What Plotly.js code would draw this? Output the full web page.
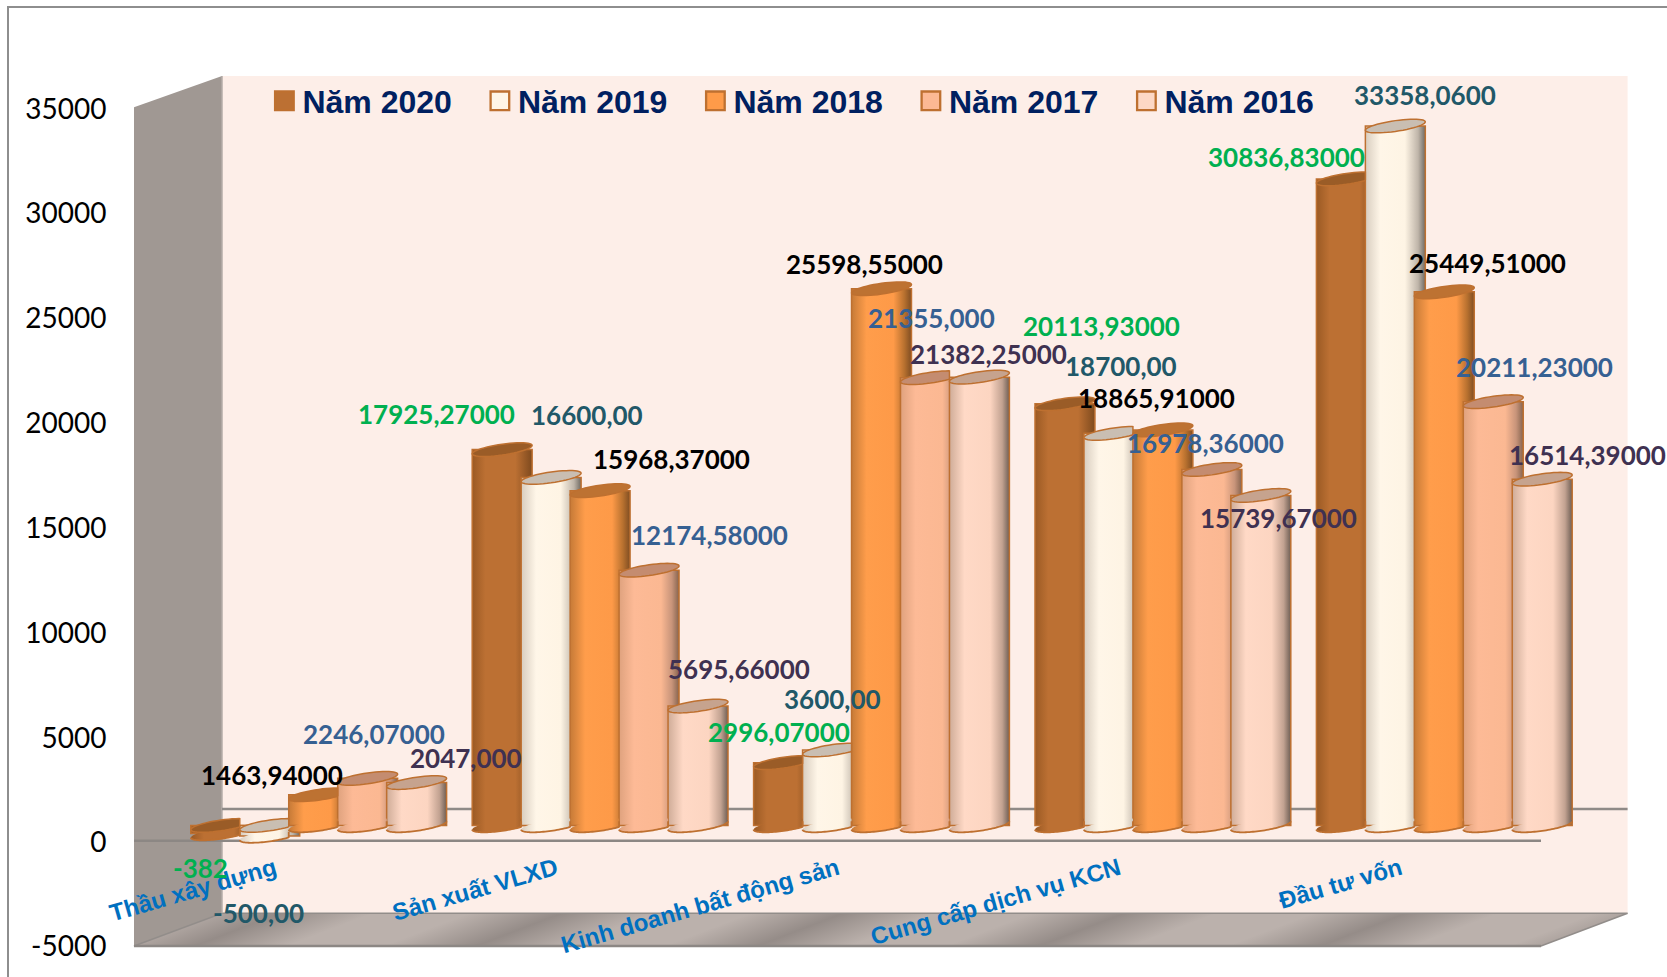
<!DOCTYPE html>
<html><head><meta charset="utf-8">
<script src="https://cdn.plot.ly/plotly-3.0.0.min.js"></script>
<style>html,body{margin:0;padding:0;background:#fff;overflow:hidden}#chart{width:1667px;height:977px}</style>
</head><body><div id="chart"></div>
<script>
// ---------- data ----------
const categories = ['Thầu xây dựng','Sản xuất VLXD','Kinh doanh bất động sản','Cung cấp dịch vụ KCN','Đầu tư vốn'];
const seriesNames = ['Năm 2020','Năm 2019','Năm 2018','Năm 2017','Năm 2016'];
const values2020 = [-382, 17925.27, 2996.07, 20113.93, 30836.83];
const values2019 = [-500, 16600, 3600, 18700, 33358.06];
const values2018 = [1463.94, 15968.37, 25598.55, 18865.91, 25449.51];
const values2017 = [2246.07, 12174.58, 21355, 16978.36, 20211.23];
const values2016 = [2047, 5695.66, 21382.25, 15739.67, 16514.39];
const labels2020 = ['-382','17925,27000','2996,07000','20113,93000','30836,83000'];
const labels2019 = ['-500,00','16600,00','3600,00','18700,00','33358,0600'];
const labels2018 = ['1463,94000','15968,37000','25598,55000','18865,91000','25449,51000'];
const labels2017 = ['2246,07000','12174,58000','21355,000','16978,36000','20211,23000'];
const labels2016 = ['2047,000','5695,66000','21382,25000','15739,67000','16514,39000'];
const yTicks = [-5000,0,5000,10000,15000,20000,25000,30000,35000];

// ---------- style ----------
const W = 1667, H = 977;
const allValues = [values2020,values2019,values2018,values2017,values2016];
const allLabels = [labels2020,labels2019,labels2018,labels2017,labels2016];
const labelColors = ['#00B050','#215868','#000000','#366092','#3F3151'];
const baseColors = ['#BC7033','#FFF5E6','#FE9B49','#FCB994','#FDD8C5'];
const capColors = ['#9A5C27','#C9BEB2','#BD7232','#C48C70','#C6A38E'];
const edgeColor = '#BE7030';
const gradients = [
  [[0,'#9B5A24'],[.22,'#BC7033'],[.72,'#BC7033'],[1,'#7E4A1E']],
  [[0,'#D8CDBF'],[.25,'#FFF6E8'],[.66,'#FEF4E4'],[.88,'#BFB5A9'],[1,'#6F6A63']],
  [[0,'#C67A37'],[.25,'#FF9D4B'],[.70,'#FE9A48'],[.88,'#B8712F'],[1,'#7F4D22']],
  [[0,'#DFA27E'],[.25,'#FDBA96'],[.70,'#FBB892'],[.88,'#C8947A'],[1,'#86644F']],
  [[0,'#CFAC98'],[.25,'#FFD9C6'],[.68,'#FCD5C1'],[.88,'#C2A291'],[1,'#6E5E54']]
];
// label offsets from the bar's centre-top, in pixels of the 1568-wide view
const S = 1667/1568;
const labelDx = [[-19,-62,-4,34,-56],[-11,34,0,7,28],[-44,67,-16,-6,41],[6,57,1,-6,39],[46,39,9,17,43]];
const labelDy = [[-31.5,34,30,74,22],[-72,60,49,64,30],[20,31,24,31,28],[43,34,57,26,34],[24,36,23,-20,24]];

const px = x => x/W, py = y => 1-y/H;
const poly = pts => 'M' + pts.map(p => px(p[0])+','+py(p[1])).join('L') + 'Z';
const frontL=134, frontR=1541, frontT=107.3, frontB=946, frontZero=840.7, backL=222, backR=1627.6, backT=76, backB=913.3, backZero=809;
const yPerPx = 40000/(frontB-frontT), xPerPx = 5/(frontR-frontL);
// the bars stand mid-way in the 3D box: the front-plane ticks are offset by this depth
const depthY = 15.7*yPerPx, depthX = 44*xPerPx;
const barStep = 0.174, barW = 0.213;
const ellA = barW/2, ellB = 5.4*yPerPx, ellS = 4.2*yPerPx;

const staticShape = (path, fill, line, lw, layer) => ({type:'path', xref:'paper', yref:'paper', path, fillcolor:fill||'rgba(0,0,0,0)',
  line:{color:line||'rgba(0,0,0,0)', width:lw||0}, layer:layer||'below'});
const seg = (x0,y0,x1,y1) => 'M'+px(x0)+','+py(y0)+'L'+px(x1)+','+py(y1);
const shapes = [
  staticShape(poly([[backL,backT],[backR,backT],[backR,backB],[backL,backB]]),'#FDEEE8'),
  staticShape(poly([[frontL,frontT],[backL,backT],[backL,backB],[frontL,frontB]]),'#A09893'),
  staticShape(poly([[frontL,frontB],[frontR,frontB],[backR,backB],[backL,backB]]),'#BBB1AC','#928D8A',1.5),
  staticShape(seg(backL,backT,backL,backB),null,'#B5ADA8',1.5),
  staticShape(seg(backL,backZero,backR,backZero),null,'#8F8A87',2.5),
  staticShape(seg(frontL,frontZero,frontR,frontZero),null,'#8C8784',2.5),
  staticShape(seg(frontL,frontB,frontR,frontB),null,'#8C8784',2.5),
  staticShape('M'+px(8)+','+py(977)+'L'+px(8)+','+py(7)+'L'+px(1667)+','+py(7),null,'#8E8E8E',2)
];
const FLOOR_INDEX = 2;

// cylinder ends, placed from the data values
function ellipsePoints(xc, yc, from, to, xMax){
  const pts=[];
  for(let k=0;k<=48;k++){
    const t = from+(to-from)*k/48;
    pts.push([Math.min(xc+ellA*Math.cos(t),xMax), yc+ellS*Math.cos(t)+ellB*Math.sin(t)]);
  }
  return pts;
}
const dataPath = (pts,close) => 'M'+pts.map(p=>p[0].toFixed(4)+','+p[1].toFixed(1)).join('L')+(close?'Z':'');
const gradientTargets = [];
allValues.forEach((vals,s)=>{
  vals.forEach((v,i)=>{
    const xc = i+(s-2)*barStep;
    const nextLeft = s<4 ? xc+barStep-barW/2 : Infinity;
    const low = Math.min(0,v);
    gradientTargets.push({index:shapes.length, s, clamped:s<4});
    shapes.push({type:'path',xref:'x',yref:'y',layer:'above',path:dataPath(ellipsePoints(xc,low,0,2*Math.PI,nextLeft),true),
      fillcolor:baseColors[s],line:{width:0}});
    shapes.push({type:'path',xref:'x',yref:'y',layer:'above',path:dataPath(ellipsePoints(xc,low,Math.PI,2*Math.PI,nextLeft),false),
      fillcolor:'rgba(0,0,0,0)',line:{color:edgeColor,width:1.8}});
  });
});
allValues.forEach((vals,s)=>{
  vals.forEach((v,i)=>{
    const xc = i+(s-2)*barStep;
    const high = Math.max(0,v);
    const nextHigh = s<4 ? Math.max(0,allValues[s+1][i]) : -Infinity;
    const xMax = nextHigh>=high ? xc+barStep-barW/2 : Infinity;
    shapes.push({type:'path',xref:'x',yref:'y',layer:'above',path:dataPath(ellipsePoints(xc,high,0,2*Math.PI,xMax),true),
      fillcolor:capColors[s],line:{color:edgeColor,width:1.5}});
  });
});

const traces = seriesNames.map((name,s)=>({
  type:'bar', name, x:categories, y:allValues[s],
  width:barW, offset:(s-2)*barStep-barW/2, cliponaxis:false,
  marker:{color:baseColors[s], line:{color:edgeColor,width:1.5}}, hoverinfo:'x+y+name'
}));

const annotations = [];
allLabels.forEach((labs,s)=>labs.forEach((text,i)=>{
  annotations.push({xref:'x',yref:'y',x:i+(s-2)*barStep,y:allValues[s][i],text,showarrow:false,
    xanchor:'center',yanchor:'middle',xshift:labelDx[s][i]*S,yshift:labelDy[s][i]*S-1,
    font:{family:'Lato, Carlito, sans-serif',size:26,color:labelColors[s],weight:700}});
}));

const xStart = -0.5-depthX;
const layout = {
  width:W, height:H, margin:{l:0,r:0,t:0,b:0}, paper_bgcolor:'#fff', plot_bgcolor:'rgba(0,0,0,0)',
  barmode:'overlay', hovermode:'closest',
  xaxis:{type:'category', categoryorder:'array', categoryarray:categories,
    domain:[px(frontL),px(backR)], range:[xStart, xStart+(backR-frontL)*xPerPx], anchor:'free', position:py(frontZero),
    tickmode:'array', tickvals:categories.map((c,i)=>i-depthX), ticktext:categories, tickangle:-16,
    ticks:'outside', ticklen:4, tickcolor:'rgba(0,0,0,0)', showgrid:false, zeroline:false, showline:false,
    tickfont:{family:'Liberation Sans, Arial, sans-serif',size:24,color:'#0070C0',weight:700}},
  yaxis:{domain:[py(frontB),py(frontT)], range:[-5000-depthY,35000-depthY], anchor:'x',
    tickmode:'array', tickvals:yTicks.map(v=>v-depthY-(v>-5000?1.5*yPerPx:0)), ticktext:yTicks.map(String),
    ticks:'outside', ticklen:21, tickcolor:'rgba(0,0,0,0)', showgrid:false, zeroline:false, showline:false,
    tickfont:{family:'Lato, Carlito, sans-serif',size:28,color:'#000'}},
  showlegend:true,
  legend:{orientation:'h', x:px(262.4), xanchor:'left', y:py(101), yanchor:'middle', bgcolor:'rgba(0,0,0,0)',
    traceorder:'normal', entrywidth:170.5, entrywidthmode:'pixels',
    font:{family:'Liberation Sans, Arial, sans-serif',size:32,color:'#002060',weight:700}},
  shapes, annotations
};

function svgEl(tag){return document.createElementNS('http://www.w3.org/2000/svg',tag);}
function makeGradient(defs,id,stops,x2){
  const g=svgEl('linearGradient'); g.setAttribute('id',id);
  g.setAttribute('x1','0');g.setAttribute('y1','0');g.setAttribute('x2',String(x2));g.setAttribute('y2','0');
  stops.forEach(([o,c])=>{const st=svgEl('stop');st.setAttribute('offset',o);st.setAttribute('stop-color',c);g.appendChild(st);});
  defs.appendChild(g);
}
function paint(gd){
  const svg=gd.querySelector('.main-svg');
  const defs=svg.querySelector('defs');
  if(!svg.querySelector('#cyl0')){
    gradients.forEach((st,s)=>{makeGradient(defs,'cyl'+s,st,1);makeGradient(defs,'cylc'+s,st,barW/barStep);});
    const f=svgEl('linearGradient');f.setAttribute('id','floorStreak');f.setAttribute('gradientUnits','userSpaceOnUse');
    f.setAttribute('spreadMethod','repeat');
    f.setAttribute('x1','518');f.setAttribute('y1','930');f.setAttribute('x2',String(518+36.1));f.setAttribute('y2',String(930+94.1));
    [[0,'#958C88'],[.33,'#BBB1AC'],[.67,'#BBB1AC'],[1,'#958C88']].forEach(([o,c])=>{const st=svgEl('stop');st.setAttribute('offset',o);st.setAttribute('stop-color',c);f.appendChild(st);});
    defs.appendChild(f);
  }
  gd.querySelectorAll('.barlayer .trace').forEach((tr,s)=>{
    tr.querySelectorAll('.point path').forEach(p=>{p.style.fill='url(#cyl'+s+')';});
  });
  const shapeAt=i=>gd.querySelector('.shapelayer path[data-index="'+i+'"]');
  gradientTargets.forEach(t=>{const el=shapeAt(t.index); if(el) el.style.fill='url(#'+(t.clamped?'cylc':'cyl')+t.s+')';});
  const floor=shapeAt(FLOOR_INDEX); if(floor) floor.style.fill='url(#floorStreak)';
  gd.querySelectorAll('.legendpoints path').forEach(p=>p.setAttribute('transform','translate(22,0) scale(1.55)'));
}
const gd=document.getElementById('chart');
Plotly.newPlot(gd,traces,layout,{displayModeBar:false,responsive:false}).then(()=>{paint(gd);gd.on('plotly_afterplot',()=>paint(gd));});
</script>
</body></html>
